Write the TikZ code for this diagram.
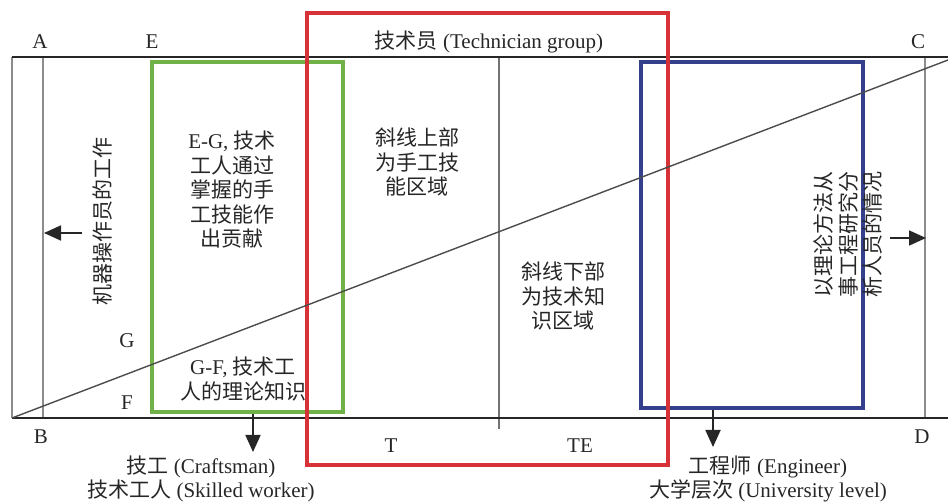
\documentclass[tikz,border=0pt]{standalone}
\usepackage{fontspec}
\setmainfont{Liberation Serif}
\newfontfamily\cjk{Noto Sans CJK SC}
\newcommand\zh[1]{{\cjk #1}}
\usetikzlibrary{arrows.meta}
\tikzset{
  txt/.style={inner sep=0pt, font=\fontsize{21}{24.5}\selectfont, align=center, text=black!85},
  mainline/.style={line width=2.5pt, black!85},
  gline/.style={line width=1.5pt, black!45},
  mline/.style={line width=1.5pt, black!55},
  diag/.style={line width=1.4pt, black!70},
  boxg/.style={draw=green!55!black!70!white, line width=4pt, inner sep=0pt},
  arr/.style={line width=1.8pt, black!85, -{Triangle[length=17pt,width=15pt]}},
}
\definecolor{gbox}{RGB}{112,178,72}
\definecolor{rbox}{RGB}{215,50,55}
\definecolor{bbox}{RGB}{52,64,140}
\begin{document}
\begin{tikzpicture}[x=1pt,y=-1pt]
\useasboundingbox (0,0) rectangle (948,502);
% frame lines
\coordinate (tl) at (12,57); \coordinate (tr) at (948,57);
\coordinate (bl) at (12,418); \coordinate (br) at (948,418);
\draw[gline] (tl) -- (bl);
\draw[gline] (43,57) coordinate (a1) -- (43,418) coordinate (a2);
\draw[gline] (925,57) coordinate (c1) -- (925,418) coordinate (c2);
\draw[mline] (499,57) coordinate (m1) -- (499,429) coordinate (m2);
\draw[mainline] (tl) -- (tr);
\draw[mainline] (bl) -- (br);
% boxes
\node[draw=gbox, line width=4pt, inner sep=0pt, minimum width=191pt, minimum height=350pt] (green) at (247.5,237) {};
\node[draw=bbox, line width=4pt, inner sep=0pt, minimum width=222pt, minimum height=346pt] (blue) at (752,235) {};
\node[draw=rbox, line width=4pt, inner sep=0pt, minimum width=361pt, minimum height=452pt] (red) at (487.5,239) {};
% diagonal
\coordinate (d1) at (12,418); \coordinate (d2) at (948,60);
\draw[diag] (d1) -- (d2);
% letters
\node[txt] (A) at (40,42) {A};
\node[txt] (E) at (152,42) {E};
\node[txt] (C) at (918,42) {C};
\node[txt] (B) at (41,437) {B};
\node[txt] (D) at (922,437) {D};
\node[txt] (G) at (127,341) {G};
\node[txt] (F) at (127,403) {F};
\node[txt] (T) at (391,446) {T};
\node[txt] (TE) at (580,446) {TE};
% title
\node[txt] (title) at (489,42) {\zh{技术员} (Technician group)};
% texts inside
\node[txt] (eg) at (232,190) {E-G, \zh{技术}\\\zh{工人通过}\\\zh{掌握的手}\\\zh{工技能作}\\\zh{出贡献}};
\node[txt] (gf) at (243,379) {G-F, \zh{技术工}\\\zh{人的理论知识}};
\node[txt] (up) at (417,162) {\zh{斜线上部}\\\zh{为手工技}\\\zh{能区域}};
\node[txt] (low) at (563,296) {\zh{斜线下部}\\\zh{为技术知}\\\zh{识区域}};
\node[txt, rotate=90] (mach) at (103,222) {\zh{机器操作员的工作}};
\node[txt, rotate=90, align=left] (eng) at (848,235) {\zh{以理论方法从}\\\zh{事工程研究分}\\\zh{析人员的情况}};
% bottom texts
\node[txt] (craft) at (201,479) {\zh{技工} (Craftsman)\\\zh{技术工人} (Skilled worker)};
\node[txt] (engr) at (768,479) {\zh{工程师} (Engineer)\\\zh{大学层次} (University level)};
% arrows
\coordinate (la1) at (82,233); \coordinate (la2) at (44,233);
\draw[arr] (la1) -- (la2);
\coordinate (ra1) at (890,238); \coordinate (ra2) at (926,238);
\draw[arr] (ra1) -- (ra2);
\coordinate (ga1) at (253,414); \coordinate (ga2) at (253,452);
\draw[arr] (ga1) -- (ga2);
\coordinate (ba1) at (713,410); \coordinate (ba2) at (713,447);
\draw[arr] (ba1) -- (ba2);
\end{tikzpicture}
\end{document}
